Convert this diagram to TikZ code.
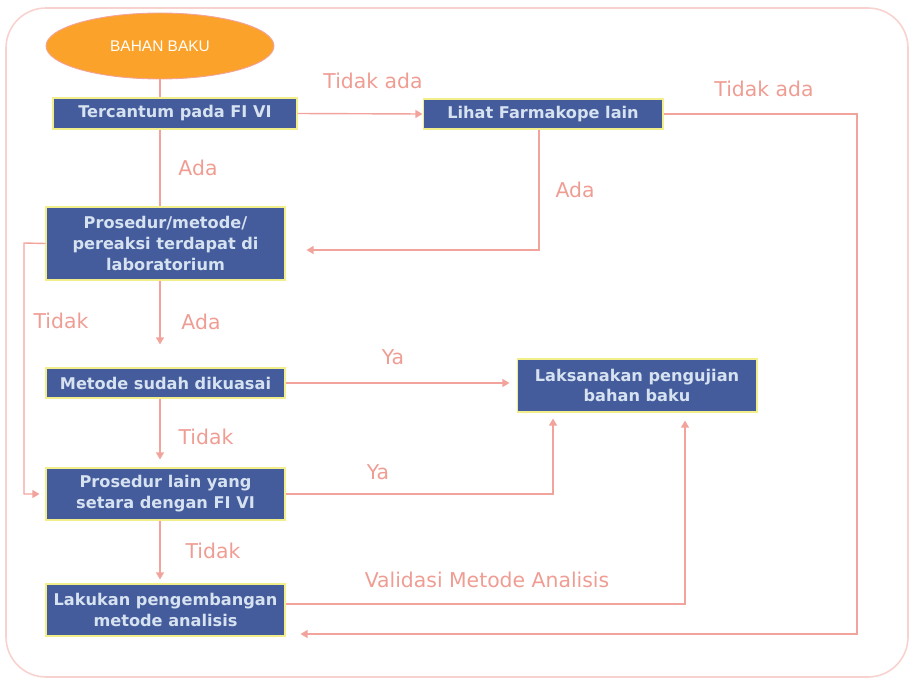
\documentclass[tikz,border=0pt]{standalone}
\usepackage{fontspec}
\setmainfont{DejaVu Sans}
\newfontfamily\ovalfont{Liberation Sans}
\usetikzlibrary{shapes.geometric,arrows.meta}
\definecolor{boxblue}{HTML}{445C9C}
\definecolor{boxedge}{HTML}{F2EE8A}
\definecolor{boxtext}{HTML}{D6E2F0}
\definecolor{linkpink}{HTML}{F2A49C}
\definecolor{labelpink}{HTML}{EF9D93}
\definecolor{framepink}{HTML}{F8D2CE}
\definecolor{startorange}{HTML}{FBA22A}
\begin{document}
\begin{tikzpicture}
    [
        x=0.02cm, y=-0.02cm,
        stepbox/.style={rectangle, draw=boxedge, fill=boxblue, text=boxtext, line width=0.6pt,
            font=\bfseries\fontsize{9.2}{11.9}\selectfont, align=center,
            inner sep=0pt, minimum width=4.8cm},
        startoval/.style={ellipse, draw=linkpink, fill=startorange, text=white, line width=0.5pt,
            font=\ovalfont\fontsize{8.8}{10}\selectfont, inner sep=0pt,
            minimum width=4.56cm, minimum height=1.32cm},
        link/.style={draw=linkpink, line width=0.8pt},
        arrowlink/.style={link, -{Triangle[length=4pt, width=4.5pt]}},
        answer/.style={text=labelpink, font=\fontsize{11.6}{14}\selectfont, inner sep=0pt},
    ]
    \useasboundingbox (0,0) rectangle (909,679);
    \draw [framepink, line width=0.9pt, rounded corners=0.8cm] (6,8) rectangle (908,677);

    \node (start) at (160,46) [startoval] {BAHAN BAKU};
    \node (b1) at (175,113.5) [stepbox, minimum width=4.88cm, minimum height=0.62cm] {Tercantum pada FI VI};
    \node (b2) at (543,114) [stepbox, minimum height=0.6cm] {Lihat Farmakope lain};
    \node (b3) at (165.5,243.5) [stepbox, minimum width=4.78cm, minimum height=1.46cm] {Prosedur/metode/\\pereaksi terdapat di\\laboratorium};
    \node (b4) at (165.5,383) [stepbox, minimum width=4.78cm, minimum height=0.6cm] {Metode sudah dikuasai};
    \node (b5) at (637,385.5) [stepbox, minimum height=1.06cm] {Laksanakan pengujian\\bahan baku};
    \node (b6) at (165.5,494) [stepbox, minimum width=4.78cm, minimum height=1.04cm] {Prosedur lain yang\\setara dengan FI VI};
    \node (b7) at (165.5,610) [stepbox, minimum width=4.78cm, minimum height=1.04cm] {Lakukan pengembangan\\metode analisis};

    \coordinate (rr) at (857,634);
    \coordinate (ra) at (539,250);
    \coordinate (la) at (24,243);
    \coordinate (ya) at (553,496);
    \coordinate (va) at (685,604);

    \draw [link] (start.south) -- (b1.north -| start);
    \draw [arrowlink] (b1.east) -- (b2.west);
    \draw [link] (b1.south -| start) -- (b3.north -| start);
    \draw [arrowlink, shorten >=0.3cm] (b2.east) -| (rr) -- (rr -| b7.east);
    \draw [arrowlink, shorten >=0.42cm] (b2.south -| ra) -- (ra) -- (ra -| b3.east);
    \draw [arrowlink, shorten >=0.12cm] (b3.west) -- (la) |- (b6.west);
    \draw [arrowlink, shorten >=0.46cm] (b3.south -| start) -- (b4.north -| start);
    \draw [arrowlink, shorten >=0.14cm] (b4.east) -- (b4.east -| b5.west);
    \draw [arrowlink, shorten >=0.16cm] (b4.south -| start) -- (b6.north -| start);
    \draw [arrowlink, shorten >=0.12cm] (b6.east) -| (b5.south -| ya);
    \draw [arrowlink, shorten >=0.08cm] (b6.south -| start) -- (b7.north -| start);
    \draw [arrowlink, shorten >=0.16cm] (b7.east |- va) -- (va) -- (va |- b5.south);

    \node (t1) at (373,81) [answer] {Tidak ada};
    \node (t2) at (764,89) [answer] {Tidak ada};
    \node (a1) at (198,168) [answer] {Ada};
    \node (a2) at (575,190) [answer] {Ada};
    \node (t3) at (61,321) [answer] {Tidak};
    \node (a3) at (201,322) [answer] {Ada};
    \node (y1) at (393,357) [answer] {Ya};
    \node (t4) at (206,437) [answer] {Tidak};
    \node (y2) at (378,472) [answer] {Ya};
    \node (t5) at (213,551) [answer] {Tidak};
    \node (va1) at (487,580) [answer] {Validasi Metode Analisis};
\end{tikzpicture}
\end{document}
